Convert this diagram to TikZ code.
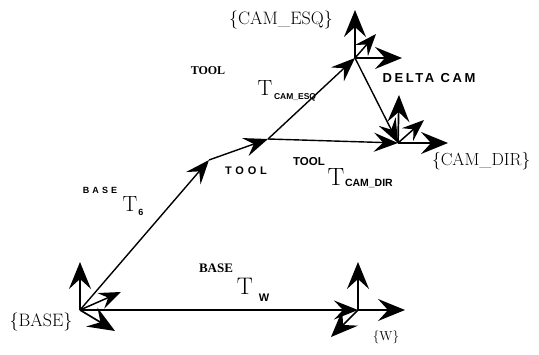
\documentclass[tikz,border=0pt]{standalone}
\usepackage{fontspec}
\usetikzlibrary{arrows.meta}
\newfontfamily\sanssp[LetterSpace=20]{Liberation Sans}
\newfontfamily\sanswide[LetterSpace=35]{Liberation Sans}
\newfontfamily\sansn{Liberation Sans}
\newfontfamily\serift{Liberation Serif}
\newcommand\fs[1]{\fontsize{#1}{#1}\selectfont}
\tikzset{
  arr/.style={-{Stealth[length=24pt,width=19pt,inset=9pt]}, line width=1.4pt},
  axis/.style={-{Stealth[length=27pt,width=22pt,inset=10pt]}, line width=1.7pt},
  sax/.style={-{Stealth[length=22pt,width=17pt,inset=8pt]}, line width=1.5pt},
  txt/.style={inner sep=0pt, outer sep=0pt, anchor=center}
}
\begin{document}
\begin{tikzpicture}[x=1pt,y=1pt]
\useasboundingbox (0,0) rectangle (539,354);
% frame origins
\coordinate (base) at (80,44);
\coordinate (w) at (358,44);
\coordinate (six) at (209,194);
\coordinate (tool) at (268,215);
\coordinate (esq) at (355,296);
\coordinate (dir) at (398,211);
% axis ends
\coordinate (baseup) at (80,92);
\coordinate (basediag) at (121,62);
\coordinate (basedn) at (115,23);
\coordinate (wup) at (358,92);
\coordinate (wright) at (405,44);
\coordinate (wdl) at (331,17);
\coordinate (esqup) at (355,344);
\coordinate (esqdiag) at (376,320);
\coordinate (esqright) at (402,296);
\coordinate (dirup) at (399,259);
\coordinate (dirdiag) at (424,234);
\coordinate (dirright) at (448,211);
% axes
\draw[axis] (base) -- (baseup);
\draw[sax] (base) -- (basediag);
\draw[axis] (base) -- (basedn);
\draw[axis] (w) -- (wup);
\draw[axis] (w) -- (wright);
\draw[axis] (w) -- (wdl);
\draw[axis] (esq) -- (esqup);
\draw[sax] (esq) -- (esqdiag);
\draw[axis] (esq) -- (esqright);
\draw[axis] (dir) -- (dirup);
\draw[sax] (dir) -- (dirdiag);
\draw[axis] (dir) -- (dirright);
% transforms
\draw[arr] (base) -- (w);
\draw[arr] (base) -- (six);
\draw[arr] (six) -- (tool);
\draw[arr] (tool) -- (esq);
\draw[arr] (tool) -- (dir);
\draw[arr] (esq) -- (dir);
% frame labels
\node[txt] (lbase) at (41,32) {\fs{18}\{BASE\}};
\node[txt] (lw) at (386,17) {\fs{13}\{W\}};
\node[txt] (lesq) at (281,334) {\fs{18}\{CAM\_ESQ\}};
\node[txt, anchor=west] (ldir) at (432,193) {\fs{17.5}\{CAM\_DIR\}};
\node[txt] (ldelta) at (429,276) {\sanssp\bfseries\fs{13}DELTA CAM};
\node[txt] (ltool) at (246,183) {\sanswide\bfseries\fs{11}TOOL};
% BASE T 6
\node[txt] (t6sup) at (100,164) {\sanswide\bfseries\fs{9}BASE};
\node[txt] (t6T) at (130,150) {\fs{22}T};
\node[txt] (t6sub) at (141,142) {\sansn\bfseries\fs{9}6};
% BASE T W
\node[txt] (twsup) at (216,86) {\serift\bfseries\fs{13}BASE};
\node[txt] (twT) at (245,68) {\fs{24}T};
\node[txt] (twsub) at (264,56) {\sansn\bfseries\fs{11}W};
% TOOL T CAM_ESQ
\node[txt] (tesup) at (208,283) {\serift\bfseries\fs{12}TOOL};
\node[txt] (teT) at (265,266) {\fs{22}T};
\node[txt, anchor=west] (tesub) at (274,257) {\sansn\bfseries\fs{8.5}CAM\_ESQ};
% TOOL T CAM_DIR
\node[txt] (tdsup) at (309,192) {\sansn\bfseries\fs{11.5}TOOL};
\node[txt] (tdT) at (336,177) {\fs{25}T};
\node[txt, anchor=west] (tdsub) at (345,171) {\sansn\bfseries\fs{10.5}CAM\_DIR};
\end{tikzpicture}
\end{document}
